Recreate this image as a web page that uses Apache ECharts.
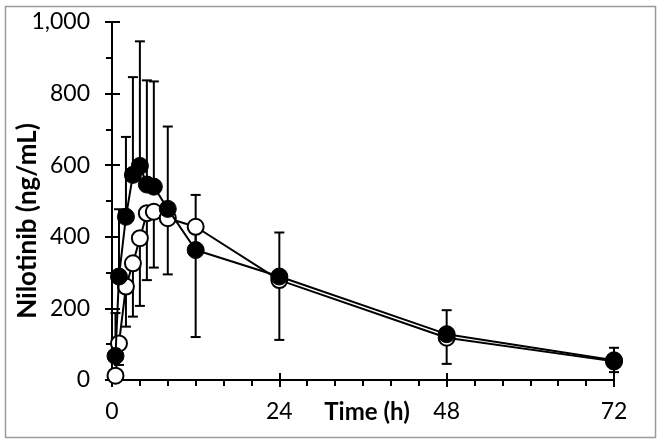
<!DOCTYPE html>
<html><head><meta charset="utf-8">
<script src="https://cdn.jsdelivr.net/npm/echarts@6/dist/echarts.min.js"></script>
<style>html,body{margin:0;padding:0;background:#fff}#c{width:664px;height:446px}</style>
</head><body><div id="c"></div>
<script>
var times = [0.5, 1, 2, 3, 4, 5, 6, 8, 12, 24, 48, 72];
var filledMean = [67, 289, 456, 573, 598, 546, 540, 478, 363, 289, 128, 55];
var filledSD = [120, 188, 223, 273, 348, 291, 294, 230, 154, 123, 67, 35];
var hollowMean = [12, 102, 261, 326, 396, 466, 470, 452, 428, 279, 118, 52];
var hollowSD = [10, 60, 112, 149, 189, 187, 156, 157, 308, 167, 73, 30];
var xTicks = [0, 24, 48, 72];
var yTicks = [0, 200, 400, 600, 800, 1000];

var FONT = 'Lato';
var chart = echarts.init(document.getElementById('c'), null, {renderer: 'canvas'});
function pairs(t, v) { return t.map(function (x, i) { return [x, v[i]]; }); }
function errData(t, m, sd, dir) { return t.map(function (x, i) { return [x, m[i], m[i] + dir * sd[i]]; }); }
function errRender(params, api) {
  var x = api.value(0), a = api.coord([x, api.value(1)]), b = api.coord([x, api.value(2)]);
  var hw = 5, st = {stroke: '#000', lineWidth: 2};
  return {type: 'group', children: [
    {type: 'line', shape: {x1: a[0], y1: a[1], x2: b[0], y2: b[1]}, style: st},
    {type: 'line', shape: {x1: b[0] - hw, y1: b[1], x2: b[0] + hw, y2: b[1]}, style: st}
  ]};
}
var axisLine = {show: true, lineStyle: {color: '#000', width: 2}};
var option = {
  backgroundColor: '#fff',
  animation: false,
  grid: {left: 112, right: 50, top: 22, bottom: 66, containLabel: false},
  xAxis: [{
    type: 'value', min: 0, max: 72, interval: 24,
    axisLine: axisLine,
    axisTick: {show: true, inside: false, length: 7, lineStyle: {color: '#000', width: 2}},
    minorTick: {show: true, splitNumber: 6, length: 6, lineStyle: {color: '#000', width: 2}},
    splitLine: {show: false},
    axisLabel: {margin: 20, fontFamily: FONT, fontSize: 23, color: '#000',
      formatter: function (v) { return xTicks.indexOf(v) >= 0 ? String(v) : ''; }}
  }, {
    type: 'value', min: 0, max: 72, interval: 24, position: 'bottom',
    axisLine: {show: false}, axisLabel: {show: false}, splitLine: {show: false},
    axisTick: {show: true, inside: true, length: 7, lineStyle: {color: '#000', width: 2}}
  }],
  yAxis: [{
    type: 'value', min: 0, max: 1000, interval: 200,
    axisLine: axisLine,
    axisTick: {show: true, inside: false, length: 7, lineStyle: {color: '#000', width: 2}},
    minorTick: {show: true, splitNumber: 2, length: 6, lineStyle: {color: '#000', width: 2}},
    splitLine: {show: false},
    axisLabel: {margin: 22, fontFamily: FONT, fontSize: 23, color: '#000',
      formatter: function (v) { return yTicks.indexOf(v) >= 0 ? v.toLocaleString('en-US') : ''; }}
  }, {
    type: 'value', min: 0, max: 1000, interval: 200, position: 'left',
    axisLine: {show: false}, axisLabel: {show: false}, splitLine: {show: false},
    axisTick: {show: true, inside: true, length: 8, lineStyle: {color: '#000', width: 2}}
  }],
  graphic: [
    {type: 'rect', shape: {x: 5.5, y: 6.5, width: 650, height: 431}, style: {fill: 'none', stroke: '#9a9a9a', lineWidth: 1.5}, z: -1},
    {type: 'text', x: 28, y: 221, rotation: Math.PI / 2, style: {text: 'Nilotinib (ng/mL)', fontFamily: FONT, fontWeight: 'bold', fontSize: 26, fill: '#000', textAlign: 'center', textVerticalAlign: 'middle'}},
    {type: 'text', x: 367, y: 412, style: {text: 'Time (h)', fontFamily: FONT, fontWeight: 'bold', fontSize: 24, fill: '#000', textAlign: 'center', textVerticalAlign: 'middle'}}
  ],
  series: [
    {type: 'custom', renderItem: errRender, data: errData(times, hollowMean, hollowSD, -1), z: 1, silent: true, clip: false},
    {type: 'custom', renderItem: errRender, data: errData(times, filledMean, filledSD, 1), z: 1, silent: true, clip: false},
    {type: 'line', data: pairs(times, hollowMean), symbol: 'circle', symbolSize: 16, z: 3,
      lineStyle: {color: '#000', width: 2}, itemStyle: {color: '#fff', borderColor: '#000', borderWidth: 2}},
    {type: 'line', data: pairs(times, filledMean), symbol: 'circle', symbolSize: 17, z: 4,
      lineStyle: {color: '#000', width: 2}, itemStyle: {color: '#000', borderColor: '#000', borderWidth: 1}}
  ]
};
chart.setOption(option);
</script></body></html>
